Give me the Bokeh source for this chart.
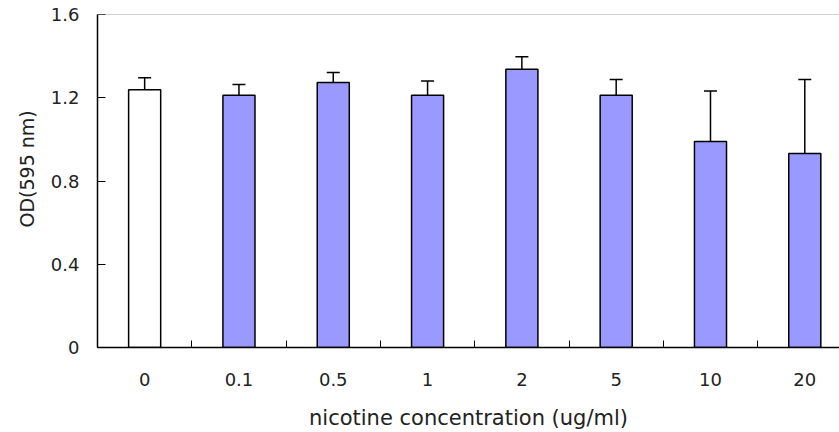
from bokeh.plotting import figure
from bokeh.models import Range1d, FixedTicker, Whisker, ColumnDataSource, Span, TeeHead, Title
from bokeh.embed import file_html
from bokeh.resources import INLINE

categories = ["0", "0.1", "0.5", "1", "2", "5", "10", "20"]
od_means = [1.238, 1.212, 1.273, 1.212, 1.337, 1.212, 0.990, 0.932]
od_errors = [0.058, 0.052, 0.048, 0.068, 0.060, 0.076, 0.242, 0.356]
bar_colors = ["#FFFFFF"] + ["#9999FF"] * 7
y_ticks = [0, 0.4, 0.8, 1.2, 1.6]
y_tick_labels = ["0", "0.4", "0.8", "1.2", "1.6"]

n = len(categories)
xs = [i + 0.5 for i in range(n)]
src = ColumnDataSource(dict(
    x=xs, top=od_means, color=bar_colors,
    upper=[m + e for m, e in zip(od_means, od_errors)],
))

FONT = "DejaVu Sans"
TXT = "#222222"

p = figure(width=839, height=432, output_backend="svg", toolbar_location=None,
           x_range=Range1d(0, 7.868), y_range=Range1d(y_ticks[0], y_ticks[-1]),
           min_border_left=97, min_border_right=0, min_border_top=14, min_border_bottom=85)
p.grid.visible = False
p.outline_line_color = None
p.background_fill_color = "white"
p.border_fill_color = "white"

p.vbar(x="x", top="top", width=0.34, bottom=0, source=src,
       fill_color="color", line_color="black", line_width=1.5)

wh = Whisker(base="x", lower="top", upper="upper", source=src,
             line_color="black", line_width=1.5,
             upper_head=TeeHead(size=13, line_color="black", line_width=1.5),
             lower_head=None)
p.add_layout(wh)

p.add_layout(Span(location=y_ticks[-1], dimension="width", line_color="#a0a0a0", line_width=1))

# x axis
xa = p.xaxis[0]
xa.ticker = FixedTicker(ticks=xs, minor_ticks=list(range(1, n)))
xa.major_label_overrides = {x: c for x, c in zip(xs, categories)}
xa.major_tick_in = 0
xa.major_tick_out = 0
xa.minor_tick_in = 7
xa.minor_tick_out = 0
xa.minor_tick_line_color = "black"
xa.axis_line_color = "black"
xa.axis_line_width = 1.5
xa.major_label_text_font = FONT
xa.major_label_text_font_size = "18px"
xa.major_label_text_color = TXT
xa.major_label_standoff = 25
xa.axis_label = "nicotine concentration (ug/ml)"
xa.axis_label_text_font = FONT
xa.axis_label_text_font_size = "21px"
xa.axis_label_text_font_style = "normal"
xa.axis_label_text_color = TXT
xa.axis_label_standoff = 17

ya = p.yaxis[0]
ya.ticker = FixedTicker(ticks=y_ticks)
ya.major_label_overrides = {t: l for t, l in zip(y_ticks, y_tick_labels)}
ya.major_tick_in = 8
ya.major_tick_out = 0
ya.minor_tick_in = 0
ya.minor_tick_out = 0
ya.axis_line_color = "black"
ya.axis_line_width = 1.5
ya.major_label_text_font = FONT
ya.major_label_text_font_size = "18px"
ya.major_label_text_color = TXT
ya.major_label_standoff = 18

ytitle = Title(text="OD(595 nm)", align="left", offset=120, standoff=20,
               text_font=FONT, text_font_size="19px", text_font_style="normal",
               text_color=TXT)
p.add_layout(ytitle, "left")

open("out.html", "w").write(file_html(p, INLINE))
